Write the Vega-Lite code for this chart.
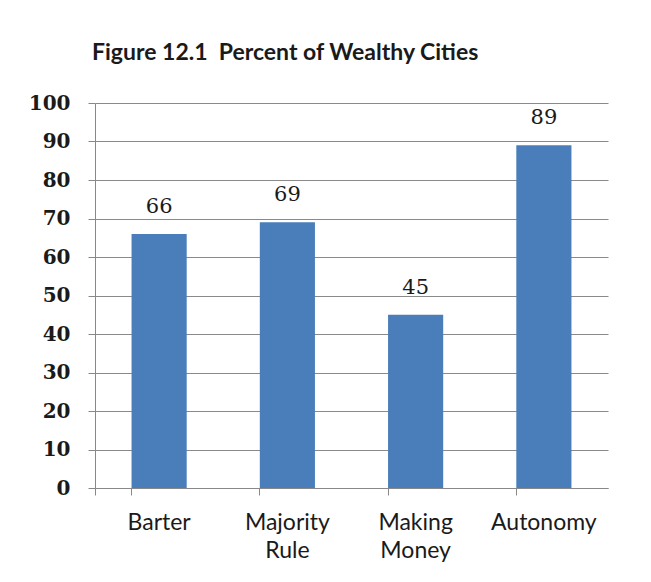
{
  "$schema": "https://vega.github.io/schema/vega-lite/v6.json",
  "width": 513,
  "height": 385,
  "autosize": {"type": "none"},
  "padding": {"left": 95, "top": 103, "right": 43, "bottom": 94},
  "background": "white",
  "title": {
    "text": "Figure 12.1\u00a0\u00a0Percent of Wealthy Cities",
    "anchor": "start",
    "frame": "group",
    "dx": -3,
    "offset": 28,
    "font": "Lato",
    "fontSize": 23,
    "fontWeight": "bold",
    "color": "#1a1a1a"
  },
  "data": {
    "values": [
      {"category": "Barter", "value": 66},
      {"category": "Majority Rule", "value": 69},
      {"category": "Making Money", "value": 45},
      {"category": "Autonomy", "value": 89}
    ]
  },
  "encoding": {
    "x": {
      "field": "category",
      "type": "nominal",
      "sort": null,
      "scale": {"paddingInner": 0.57, "paddingOuter": 0.285},
      "axis": {
        "title": null,
        "labelAngle": 0,
        "labelExpr": "datum.value == 'Majority Rule' ? ['Majority', 'Rule'] : datum.value == 'Making Money' ? ['Making', 'Money'] : datum.value",
        "bandPosition": 0,
        "tickExtra": true,
        "tickSize": 7,
        "tickColor": "#888888",
        "domainColor": "#888888",
        "labelFont": "Lato",
        "labelFontSize": 23,
        "labelColor": "#1a1a1a",
        "labelPadding": 16,
        "labelLineHeight": 28
      }
    },
    "y": {
      "field": "value",
      "type": "quantitative",
      "scale": {"domain": [0, 100]},
      "axis": {
        "title": null,
        "values": [0, 10, 20, 30, 40, 50, 60, 70, 80, 90, 100],
        "grid": true,
        "gridColor": "#8a8a8a",
        "gridWidth": 1.2,
        "tickSize": 7,
        "tickColor": "#888888",
        "domainColor": "#888888",
        "labelFont": "DejaVu Serif",
        "labelFontWeight": "bold",
        "labelFontSize": 20,
        "labelColor": "#1a1a1a",
        "labelPadding": 18
      }
    }
  },
  "layer": [
    {"mark": {"type": "bar", "color": "#4a7ebb"}},
    {
      "mark": {
        "type": "text",
        "baseline": "bottom",
        "dy": -17,
        "font": "DejaVu Serif",
        "fontSize": 21,
        "color": "#1a1a1a"
      },
      "encoding": {"text": {"field": "value", "type": "quantitative"}}
    }
  ],
  "config": {"view": {"stroke": null}}
}
